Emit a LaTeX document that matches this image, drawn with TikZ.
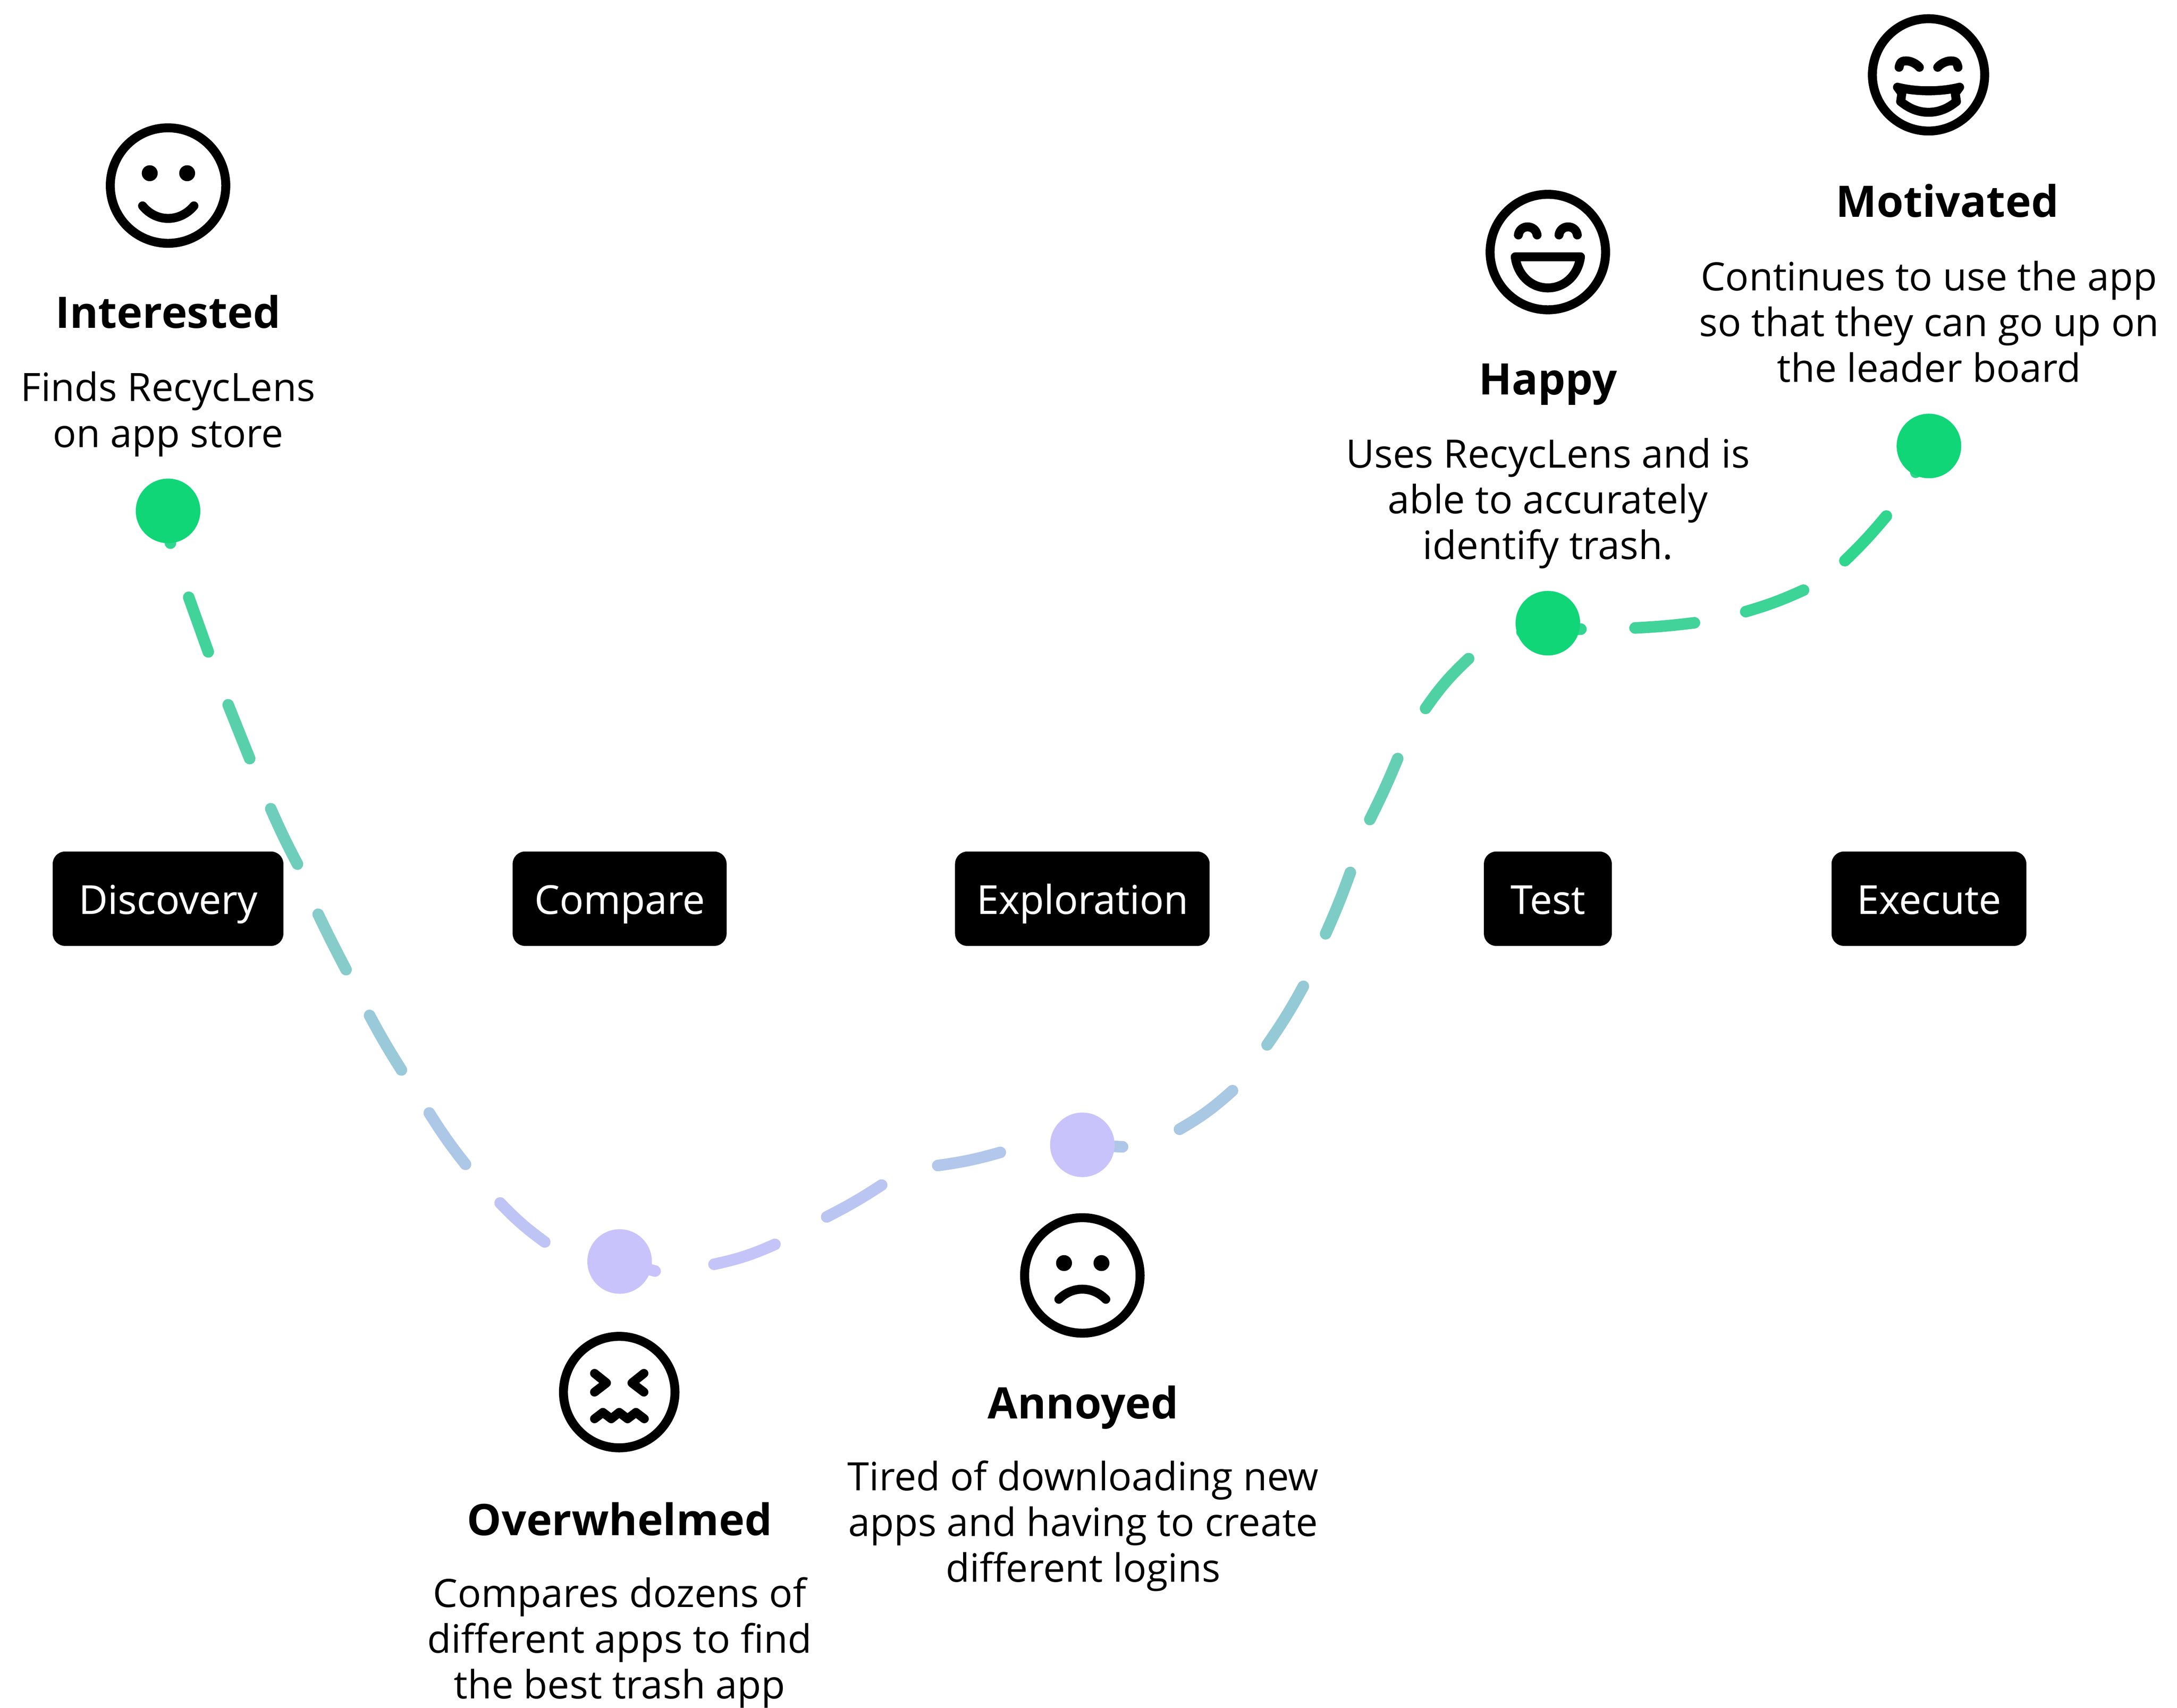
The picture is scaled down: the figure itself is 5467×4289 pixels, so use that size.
\documentclass[tikz,border=0pt]{standalone}
\usepackage{fontspec}
\setmainfont{Open Sans}
\newcommand{\bodyfont}{\fontsize{27.9}{32.7}\selectfont}
\newcommand{\pillfont}{\fontsize{28.4}{32.7}\selectfont\addfontfeature{FakeBold=0.25}}
\newcommand{\titlefont}{\fontsize{31}{38}\selectfont\bfseries}
\definecolor{dotgreen}{HTML}{10D678}
\definecolor{dotviolet}{HTML}{C8C4FB}
\definecolor{segtop}{HTML}{28D688}
\tikzset{
  x=0.01cm,y=-0.01cm,
  bodytext/.style={font=\bodyfont,align=center,inner sep=0pt,text=black},
  titletext/.style={font=\titlefont,inner sep=0pt,anchor=base,text=black},
  pill/.style={fill=black,text=white,rounded corners=0.31cm,font=\pillfont,minimum height=2.37cm,inner sep=0pt,text height=0.88cm,text depth=0.12cm},
  dotgr/.style={circle,fill=dotgreen,minimum size=1.62cm,inner sep=0pt},
  dotvi/.style={circle,fill=dotviolet,minimum size=1.62cm,inner sep=0pt},
  dashseg/.style={line width=0.29cm,line cap=round},
  facering/.style={draw=black,line width=0.225cm},
  facestroke/.style={draw=black,line width=0.225cm,line cap=round,line join=round},
}
\begin{document}
\begin{tikzpicture}
\path[use as bounding box,fill=white] (0,0) rectangle (5467,4289);

% dots (positions only; painted later)
\coordinate (pI) at (422,1283);
\coordinate (pO) at (1556,3168);
\coordinate (pA) at (2718,2875);
\coordinate (pH) at (3887,1565);
\coordinate (pM) at (4844,1120);

% dashes: the colour follows the height on the page
\foreach \n/\ax/\ay/\bx/\by/\bnd in {
  1/474/1500/523/1637/0,
  2/573/1770/627/1905/0,
  3/680/2031/747/2170/2,
  4/799/2296/869/2435/1,
  5/928/2550/1008/2687/2,
  6/1078/2795/1169/2924/3,
  7/1256/3021/1368/3119/5,
  8/1793/3175/1946/3125/6,
  9/2076/3056/2214/2976/3,
  10/2355/2927/2512/2894/4,
  12/2962/2836/3095/2739/6,
  13/3182/2624/3273/2477/3,
  14/3329/2345/3391/2191/2,
  15/3440/2058/3510/1905/2,
  16/3580/1779/3688/1654/-6,
  17/4106/1577/4255/1564/2,
  18/4384/1536/4529/1482/4,
  19/4633/1408/4737/1296/3}{
  \pgfmathtruncatemacro{\mixp}{min(100,max(0,((\ay+\by)/2-1250)/19.2))}
  \colorlet{segc}{dotviolet!\mixp!segtop}
  \coordinate (s\n a) at (\ax,\ay);
  \coordinate (s\n b) at (\bx,\by);
  \ifnum\bnd<0
    \pgfmathtruncatemacro{\bndabs}{-\bnd}
    \draw[dashseg,draw=segc] (s\n a) to[bend left=\bndabs] (s\n b);
  \else
    \draw[dashseg,draw=segc] (s\n a) to[bend right=\bnd] (s\n b);
  \fi
}

% stubs leaving the dots
\coordinate (endI) at (428,1364);
\coordinate (endO) at (1645,3192);
\coordinate (endA) at (2819,2880);
\coordinate (startH) at (3822,1587);
\coordinate (endH) at (3970,1580);
\coordinate (endM) at (4811,1186);
\draw[dashseg,draw=dotviolet!6!segtop] (pI) -- (endI);
\draw[dashseg,draw=dotviolet] (pO) -- (endO);
\draw[dashseg,draw=dotviolet!84!segtop] (pA) -- (endA);
\draw[dashseg,draw=dotviolet!6!segtop] (startH) -- (endH);
\draw[dashseg,draw=dotviolet!2!segtop] (pM) -- (endM);

\node[dotgr] (dI) at (pI) {};
\node[dotvi] (dO) at (pO) {};
\node[dotvi] (dA) at (pA) {};
\node[dotgr] (dH) at (pH) {};
\node[dotgr] (dM) at (pM) {};

% stage pills
\node[pill,minimum width=5.79cm] (pDiscovery) at (422,2257) {Discovery};
\node[pill,minimum width=5.37cm] (pCompare) at (1556,2257) {Compare};
\node[pill,minimum width=6.39cm] (pExploration) at (2718,2257) {Exploration};
\node[pill,minimum width=3.21cm] (pTest) at (3887,2257) {Test};
\node[pill,minimum width=4.89cm] (pExecute) at (4844,2257) {Execute};

% titles
\node[titletext] (tI) at (422,824) {Interested};
\node[titletext] (tO) at (1556,3856) {Overwhelmed};
\node[titletext] (tA) at (2720,3563) {Annoyed};
\node[titletext] (tH) at (3887,991) {Happy};
\node[titletext] (tM) at (4890,545) {Motivated};

% descriptions
\node[bodytext] (bI) at (422,1040) {Finds RecycLens\\on app store};
\node[bodytext] (bO) at (1556,4125) {Compares dozens of\\different apps to find\\the best trash app};
\node[bodytext] (bA) at (2720,3832) {Tired of downloading new\\apps and having to create\\different logins};
\node[bodytext] (bH) at (3887,1264) {Uses RecycLens and is\\able to accurately\\identify trash.};
\node[bodytext] (bM) at (4844,808) {Continues to use the app\\so that they can go up on\\the leader board};

% faces
\begin{scope}[shift={(422,466)}]
  \draw[facering] (0,0) circle (145);
  \fill (-46,-31) circle (20);
  \fill (48,-31) circle (20);
  \draw[facestroke] (-64,51) .. controls (-30,93) and (30,93) .. (65,51);
\end{scope}
\begin{scope}[shift={(1555,3496)}]
  \draw[facering] (0,0) circle (140);
  \draw[facestroke] (-62,-47) -- (-32,-23) -- (-62,0);
  \draw[facestroke] (62,-47) -- (32,-23) -- (62,0);
  \draw[facestroke] (-62,67) -- (-41,51) -- (-20,67) -- (0,51) -- (21,67) -- (42,51) -- (63,67);
\end{scope}
\begin{scope}[shift={(2718,3203)}]
  \draw[facering] (0,0) circle (145);
  \fill (-46,-31) circle (20);
  \fill (48,-31) circle (20);
  \draw[facestroke] (-59,60) .. controls (-25,26) and (25,26) .. (59,60);
\end{scope}
\begin{scope}[shift={(3887,633)}]
  \draw[facering] (0,0) circle (145);
  \draw[facestroke] (-74,-43) .. controls (-70,-70) and (-32,-70) .. (-27,-43);
  \draw[facestroke] (28,-43) .. controls (32,-70) and (70,-70) .. (74,-43);
  \draw[facestroke] (-82,12) -- (82,12) .. controls (76,58) and (42,90) .. (0,90) .. controls (-42,90) and (-76,58) .. cycle;
\end{scope}
\begin{scope}[shift={(4843,188)}]
  \draw[facering] (0,0) circle (141);
  \draw[facestroke] (-74,-19) .. controls (-71,-34) and (-66,-35) .. (-55,-35) .. controls (-45,-35) and (-30,-28) .. (-23,-19);
  \draw[facestroke] (74,-19) .. controls (71,-34) and (66,-35) .. (55,-35) .. controls (45,-35) and (30,-28) .. (23,-19);
  \draw[facestroke] (-78,31) .. controls (-30,43) and (30,43) .. (78,31) -- (67,46) -- (70,67) .. controls (48,85) and (25,94) .. (0,94) .. controls (-25,94) and (-48,85) .. (-70,67) -- (-67,46) -- cycle;
\end{scope}
\end{tikzpicture}
\end{document}
